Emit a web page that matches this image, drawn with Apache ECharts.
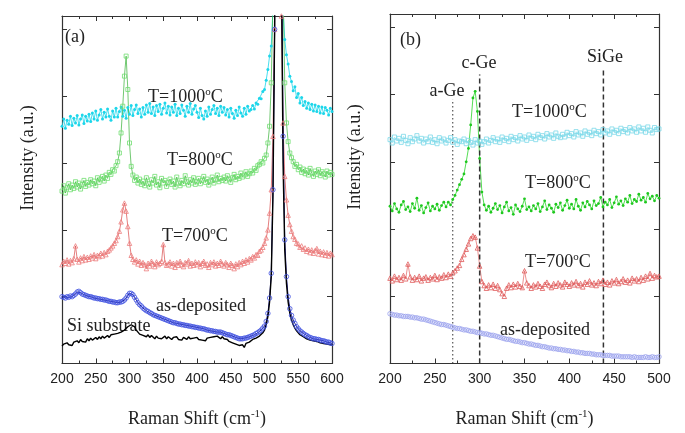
<!DOCTYPE html>
<html><head><meta charset="utf-8">
<script src="https://cdn.jsdelivr.net/npm/echarts@6/dist/echarts.min.js"></script>
<style>html,body{margin:0;padding:0;background:#fff}#c{width:685px;height:433px}</style>
</head><body><div id="c"></div>
<script>
// ---------- Panel (a): Raman shift samples (cm-1) ----------
const xA = [
 200,202.5,205,207.5,210,212.5,215,217.5,220,222.5,225,227.5,230,232.5,235,237.5,
 240,242.5,245,247.5,250,252.5,255,257.5,260,262.5,265,267.5,270,272.5,275,277.5,
 280,282.5,285,287.5,290,292.5,295,297.5,300,302.5,305,307.5,310,312.5,315,317.5,
 320,322.5,325,327.5,330,332.5,335,337.5,340,342.5,345,347.5,350,352.5,355,357.5,
 360,362.5,365,367.5,370,372.5,375,377.5,380,382.5,385,387.5,390,392.5,395,397.5,
 400,402.5,405,407.5,410,412.5,415,417.5,420,422.5,425,427.5,430,432.5,435,437.5,
 440,442.5,445,447.5,450,452.5,455,457.5,460,462.5,465,467.5,470,472.5,475,477.5,
 480,482.5,485,487.5,490,492.5,495,497.5,500,502.5,505,507.5,510,512.5,515,517.5,
 520,522.5,525,527.5,530,532.5,535,537.5,540,542.5,545,547.5,550,552.5,555,557.5,
 560,562.5,565,567.5,570,572.5,575,577.5,580,582.5,585,587.5,590,592.5,595,597.5,
 600];
const t1000A = [
 3.55,3.66,3.52,3.64,3.58,3.70,3.56,3.67,3.60,3.71,3.57,3.66,3.72,3.59,3.70,3.63,
 3.73,3.62,3.75,3.66,3.78,3.64,3.72,3.80,3.66,3.76,3.69,3.81,3.70,3.64,3.78,3.69,
 3.82,3.69,3.77,3.84,3.70,3.79,3.67,3.83,3.73,3.86,3.71,3.80,3.87,3.74,3.81,3.69,
 3.83,3.73,3.87,3.76,3.89,3.74,3.84,3.71,3.86,3.77,3.88,3.73,3.82,3.90,3.75,3.85,
 3.72,3.84,3.76,3.88,3.71,3.82,3.74,3.87,3.79,3.70,3.85,3.76,3.89,3.73,3.81,3.86,
 3.76,3.68,3.82,3.71,3.66,3.78,3.70,3.84,3.73,3.80,3.86,3.74,3.82,3.71,3.85,3.76,
 3.83,3.72,3.80,3.69,3.82,3.74,3.67,3.79,3.71,3.84,3.75,3.70,3.82,3.73,3.85,3.78,
 3.80,3.86,3.81,3.90,3.88,3.97,3.96,4.07,4.10,4.24,4.40,4.60,4.75,5.3,7.0,10,
 14,11,7.5,5.3,4.85,4.62,4.48,4.30,4.22,4.08,4.14,3.98,4.04,3.90,3.98,3.86,
 3.92,3.82,3.90,3.80,3.88,3.78,3.87,3.77,3.85,3.75,3.84,3.74,3.83,3.79,3.72,3.82,
 3.77];
const t800A = [
 2.58,2.66,2.55,2.63,2.69,2.60,2.67,2.62,2.72,2.64,2.70,2.61,2.68,2.74,2.65,2.71,
 2.67,2.75,2.69,2.73,2.66,2.78,2.71,2.76,2.80,2.73,2.82,2.77,2.86,2.83,2.90,2.88,
 2.96,3.02,3.15,3.45,3.85,4.30,4.60,4.10,3.30,2.95,2.82,2.74,2.79,2.70,2.76,2.68,
 2.73,2.66,2.78,2.69,2.64,2.75,2.70,2.80,2.67,2.72,2.63,2.77,2.70,2.74,2.65,2.71,
 2.76,2.68,2.73,2.64,2.79,2.70,2.66,2.74,2.69,2.81,2.72,2.67,2.75,2.70,2.78,2.68,
 2.72,2.77,2.69,2.74,2.80,2.71,2.76,2.67,2.73,2.79,2.70,2.75,2.82,2.72,2.77,2.74,
 2.79,2.73,2.81,2.76,2.71,2.78,2.83,2.75,2.80,2.77,2.85,2.79,2.82,2.87,2.80,2.84,
 2.88,2.85,2.92,2.89,2.96,2.98,3.02,3.00,3.07,3.12,3.30,3.55,4.20,5.4,7.5,11,
 14,11,7.5,5.6,4.20,3.60,3.32,3.15,3.08,3.02,2.95,2.98,2.90,2.94,2.86,2.91,
 2.84,2.89,2.82,2.92,2.85,2.80,2.88,2.83,2.90,2.81,2.87,2.84,2.79,2.88,2.82,2.86,
 2.83];
const t700A = [
 1.48,1.53,1.50,1.55,1.49,1.54,1.51,1.57,1.76,1.56,1.52,1.58,1.54,1.60,1.55,1.59,
 1.56,1.61,1.58,1.63,1.57,1.62,1.60,1.65,1.61,1.66,1.63,1.68,1.70,1.73,1.76,1.80,
 1.84,1.90,1.98,2.12,2.30,2.40,2.28,2.05,1.80,1.62,1.56,1.52,1.55,1.49,1.53,1.47,
 1.51,1.48,1.42,1.50,1.46,1.53,1.49,1.45,1.52,1.48,1.50,1.53,1.78,1.51,1.47,1.49,
 1.52,1.46,1.50,1.44,1.51,1.47,1.53,1.48,1.45,1.51,1.49,1.54,1.46,1.50,1.47,1.52,
 1.48,1.51,1.45,1.50,1.53,1.47,1.49,1.44,1.51,1.48,1.52,1.46,1.50,1.47,1.53,1.49,
 1.46,1.51,1.48,1.44,1.50,1.47,1.42,1.49,1.45,1.51,1.48,1.53,1.50,1.55,1.52,1.57,
 1.55,1.60,1.58,1.63,1.62,1.68,1.70,1.74,1.80,1.88,2.00,2.25,2.60,3.4,5.0,9,
 14,9,5.2,3.6,2.80,2.45,2.22,2.08,1.98,1.90,1.86,1.80,1.79,1.74,1.76,1.71,
 1.73,1.68,1.71,1.66,1.70,1.65,1.69,1.72,1.64,1.68,1.63,1.67,1.62,1.66,1.61,1.65,
 1.63];
const asDepA = [
 1.00,0.99,0.98,1.00,0.99,1.01,1.00,1.02,1.04,1.07,1.08,1.06,1.04,1.03,1.02,1.01,
 1.00,1.00,0.99,0.98,0.98,0.97,0.97,0.96,0.96,0.95,0.95,0.94,0.93,0.93,0.92,0.92,
 0.91,0.91,0.92,0.92,0.93,0.95,0.98,1.02,1.05,1.05,1.03,0.99,0.95,0.91,0.88,0.86,
 0.83,0.81,0.79,0.78,0.76,0.75,0.73,0.72,0.71,0.70,0.69,0.68,0.67,0.66,0.65,0.64,
 0.63,0.62,0.61,0.61,0.60,0.59,0.59,0.58,0.58,0.57,0.57,0.56,0.56,0.55,0.55,0.54,
 0.54,0.53,0.53,0.52,0.52,0.51,0.50,0.50,0.49,0.49,0.48,0.48,0.47,0.47,0.47,0.46,
 0.45,0.44,0.43,0.43,0.42,0.41,0.40,0.39,0.38,0.37,0.37,0.37,0.38,0.38,0.39,0.40,
 0.41,0.42,0.43,0.45,0.46,0.48,0.50,0.53,0.56,0.63,0.75,0.98,1.35,2.6,5.0,10,
 14,12,7,3.4,1.85,1.30,1.00,0.82,0.72,0.65,0.60,0.55,0.52,0.49,0.47,0.45,
 0.43,0.42,0.40,0.39,0.38,0.37,0.37,0.36,0.36,0.35,0.34,0.34,0.33,0.32,0.32,0.31,
 0.30];
const siSubA = [
 0.26,0.29,0.27,0.31,0.28,0.30,0.27,0.32,0.30,0.34,0.31,0.36,0.33,0.35,0.32,0.37,
 0.34,0.38,0.35,0.37,0.39,0.36,0.40,0.37,0.41,0.38,0.40,0.42,0.39,0.43,0.41,0.44,
 0.42,0.45,0.44,0.47,0.46,0.50,0.52,0.55,0.54,0.58,0.60,0.55,0.50,0.47,0.44,0.46,
 0.42,0.44,0.40,0.43,0.39,0.42,0.40,0.37,0.41,0.38,0.40,0.37,0.39,0.41,0.37,0.40,
 0.38,0.36,0.39,0.37,0.40,0.36,0.38,0.35,0.39,0.37,0.36,0.40,0.37,0.35,0.38,0.36,
 0.39,0.36,0.38,0.35,0.37,0.34,0.38,0.36,0.39,0.37,0.40,0.38,0.41,0.39,0.37,0.40,
 0.37,0.35,0.36,0.33,0.34,0.31,0.33,0.29,0.31,0.27,0.25,0.28,0.24,0.30,0.28,0.32,
 0.33,0.36,0.35,0.38,0.37,0.41,0.43,0.46,0.50,0.58,0.70,0.92,1.30,2.5,5.0,10,
 14,11,6,3.0,1.70,1.20,0.92,0.75,0.65,0.58,0.53,0.49,0.46,0.43,0.41,0.40,
 0.38,0.37,0.36,0.35,0.35,0.34,0.33,0.33,0.32,0.31,0.31,0.30,0.30,0.29,0.29,0.28,
 0.28];

// ---------- Panel (b) ----------
const xB = [
 200,202.5,205,207.5,210,212.5,215,217.5,220,222.5,225,227.5,230,232.5,235,237.5,
 240,242.5,245,247.5,250,252.5,255,257.5,260,262.5,265,267.5,270,272.5,275,277.5,
 280,282.5,285,287.5,290,292.5,295,297.5,300,302.5,305,307.5,310,312.5,315,317.5,
 320,322.5,325,327.5,330,332.5,335,337.5,340,342.5,345,347.5,350,352.5,355,357.5,
 360,362.5,365,367.5,370,372.5,375,377.5,380,382.5,385,387.5,390,392.5,395,397.5,
 400,402.5,405,407.5,410,412.5,415,417.5,420,422.5,425,427.5,430,432.5,435,437.5,
 440,442.5,445,447.5,450,452.5,455,457.5,460,462.5,465,467.5,470,472.5,475,477.5,
 480,482.5,485,487.5,490,492.5,495,497.5,
 500];
const t1000B = [
 3.33,3.28,3.37,3.31,3.35,3.29,3.38,3.32,3.27,3.36,3.30,3.34,3.39,3.31,3.35,3.28,
 3.34,3.30,3.37,3.29,3.33,3.27,3.36,3.31,3.34,3.28,3.32,3.36,3.29,3.33,3.26,3.31,
 3.30,3.34,3.27,3.32,3.29,3.25,3.33,3.28,3.31,3.26,3.30,3.34,3.28,3.32,3.36,3.30,
 3.34,3.29,3.37,3.32,3.35,3.30,3.38,3.33,3.36,3.31,3.39,3.34,3.37,3.32,3.40,3.35,
 3.38,3.33,3.41,3.36,3.39,3.34,3.42,3.37,3.40,3.35,3.43,3.38,3.36,3.41,3.37,3.44,
 3.39,3.42,3.37,3.45,3.40,3.43,3.38,3.46,3.41,3.44,3.39,3.47,3.42,3.45,3.40,3.48,
 3.43,3.46,3.41,3.49,3.44,3.47,3.42,3.50,3.45,3.48,3.43,3.51,3.46,3.49,3.44,3.52,
 3.46,3.50,3.44,3.52,3.47,3.43,3.51,3.48,
 3.49];
const t800B = [
 2.34,2.27,2.38,2.30,2.25,2.36,2.41,2.29,2.33,2.26,2.38,2.31,2.46,2.28,2.35,2.24,
 2.32,2.39,2.27,2.34,2.30,2.37,2.28,2.35,2.40,2.33,2.40,2.36,2.44,2.50,2.58,2.66,
 2.74,2.82,3.00,3.20,3.55,3.95,4.05,3.75,3.05,2.55,2.36,2.28,2.34,2.25,2.31,2.38,
 2.29,2.35,2.24,2.33,2.40,2.27,2.32,2.22,2.36,2.30,2.26,2.34,2.45,2.29,2.33,2.27,
 2.35,2.30,2.38,2.26,2.33,2.42,2.29,2.36,2.31,2.25,2.37,2.32,2.39,2.28,2.35,2.43,
 2.31,2.37,2.30,2.44,2.34,2.28,2.39,2.33,2.41,2.36,2.30,2.42,2.35,2.38,2.47,2.33,
 2.40,2.36,2.44,2.32,2.39,2.48,2.37,2.42,2.35,2.45,2.40,2.50,2.38,2.44,2.41,2.52,
 2.43,2.47,2.40,2.53,2.45,2.49,2.42,2.50,
 2.46];
const t700B = [
 1.27,1.23,1.30,1.25,1.28,1.24,1.31,1.26,1.48,1.29,1.24,1.28,1.25,1.30,1.23,1.27,
 1.29,1.24,1.28,1.26,1.31,1.25,1.29,1.27,1.32,1.28,1.33,1.30,1.35,1.38,1.42,1.46,
 1.55,1.62,1.70,1.78,1.86,1.90,1.88,1.72,1.45,1.22,1.16,1.12,1.17,1.13,1.18,1.12,
 1.16,1.10,1.04,1.00,1.12,1.17,1.13,1.18,1.14,1.19,1.15,1.13,1.38,1.20,1.16,1.12,
 1.17,1.14,1.19,1.15,1.12,1.18,1.21,1.16,1.13,1.19,1.15,1.20,1.17,1.14,1.21,1.18,
 1.15,1.20,1.17,1.22,1.16,1.19,1.14,1.21,1.18,1.23,1.17,1.20,1.16,1.22,1.19,1.24,
 1.18,1.21,1.17,1.23,1.20,1.25,1.19,1.22,1.26,1.21,1.24,1.20,1.27,1.23,1.26,1.22,
 1.28,1.24,1.30,1.26,1.34,1.27,1.31,1.29,
 1.30];
const asDepB = [
 0.74,0.73,0.72,0.72,0.71,0.71,0.70,0.70,0.70,0.69,0.69,0.68,0.68,0.67,0.66,0.66,
 0.65,0.64,0.63,0.62,0.61,0.60,0.59,0.58,0.58,0.57,0.56,0.55,0.54,0.53,0.52,0.52,
 0.51,0.50,0.50,0.49,0.48,0.48,0.47,0.46,0.46,0.45,0.44,0.44,0.43,0.42,0.42,0.41,
 0.40,0.39,0.38,0.37,0.36,0.36,0.35,0.34,0.33,0.33,0.32,0.31,0.31,0.30,0.29,0.29,
 0.28,0.27,0.27,0.26,0.25,0.25,0.24,0.23,0.23,0.22,0.22,0.21,0.21,0.20,0.20,0.19,
 0.19,0.18,0.18,0.17,0.17,0.16,0.16,0.15,0.15,0.15,0.14,0.14,0.13,0.13,0.13,0.12,
 0.12,0.12,0.12,0.11,0.11,0.11,0.11,0.10,0.10,0.10,0.10,0.10,0.09,0.10,0.09,0.09,
 0.09,0.09,0.10,0.09,0.09,0.10,0.09,0.09,
 0.10];
// reference lines: a-Ge, c-Ge, SiGe
const refX = [270, 300, 438];
const refTop = [3.93, 4.3, 4.4];
const rangeA = [200, 600];
const rangeB = [200, 500];

// ---------- build ----------
const pair = (xs, ys) => xs.map((x, i) => [x, ys[i]]);
const axisCol = '#333';
const serif = 'Liberation Serif';
function xAx(g, pos, range, main) {
  return {type:'value', gridIndex:g, position:pos, min:range[0], max:range[1], interval:50,
    axisLine:{show:true, onZero:false, lineStyle:{color:axisCol, width:1.2}},
    axisTick:{show:true, inside:true, length:5, lineStyle:{color:axisCol}},
    minorTick:{show:true, splitNumber:2, length:3, lineStyle:{color:axisCol}},
    splitLine:{show:false}, minorSplitLine:{show:false},
    axisLabel:{show:main, color:'#222', fontFamily:'Liberation Sans', fontSize:14, margin:9},
    name: main ? '{n|Raman Shift (cm}{s|-1}{n|)}' : '', nameLocation:'middle', nameGap:45,
    nameTextStyle:{rich:{n:{fontFamily:serif, fontSize:18, color:'#222', lineHeight:21},
      s:{fontFamily:serif, fontSize:11, color:'#222', lineHeight:9, verticalAlign:'top'}}}};
}
function yAx(g, pos) {
  return {type:'value', gridIndex:g, position:pos, min:0, max:5.2, interval:1,
    axisLine:{show:true, onZero:false, lineStyle:{color:axisCol, width:1.2}},
    axisTick:{show:true, inside:true, length:5, lineStyle:{color:axisCol}},
    axisLabel:{show:false}, splitLine:{show:false}};
}
function ser(xi, yi, data, sym, size, col, lineCol, filled, lw) {
  return {type:'line', xAxisIndex:xi, yAxisIndex:yi, data, symbol:sym, symbolSize:size,
    showSymbol: sym !== 'none', silent:true, animation:false, clip:true,
    lineStyle:{color:lineCol, width:lw || 0.8},
    itemStyle: filled ? {color:col} : {color:'transparent', borderColor:col, borderWidth:0.8}};
}
const series = [
  ser(0,0,pair(xA,t1000A),'circle',3,'#1cd6ea','#1cd6ea',true,0.8),
  ser(0,0,pair(xA,t800A),'rect',4,'#70de70','#35b035',false,0.7),
  ser(0,0,pair(xA,t700A),'triangle',4.5,'#ec7c7c','#d84848',false,0.7),
  ser(0,0,pair(xA,asDepA),'circle',4.5,'#3f50e0','#16168a',false,1),
  ser(0,0,pair(xA,siSubA),'none',0,'#000','#000',true,1.4),
  ser(2,2,pair(xB,t1000B),'rect',4,'#7ad8e8','#92e2ee',false,0.6),
  ser(2,2,pair(xB,t800B),'circle',2.8,'#1fc81f','#2ad42a',true,0.8),
  ser(2,2,pair(xB,t700B),'triangle',4.5,'#e05a5a','#e26060',false,0.7),
  ser(2,2,pair(xB,asDepB),'circle',4.5,'#9aa2ee','#aab0f0',false,0.6)
];
const refStyles = [{type:[1.5,2.5], width:1}, {type:[5,3], width:1.5}, {type:[5,3], width:1.5}];
refX.forEach((x, i) => {
  series.push({type:'line', xAxisIndex:2, yAxisIndex:2, data:[[x,0],[x,refTop[i]]], symbol:'none',
    silent:true, animation:false, lineStyle:Object.assign({color:'#333'}, refStyles[i])});
});

const rich = {n:{fontSize:18, fontFamily:serif, fill:'#222', lineHeight:21},
              s:{fontSize:11, fontFamily:serif, fill:'#222', lineHeight:9, verticalAlign:'top'}};
function T(x, y, text, align, rot) {
  return {type:'text', x, y, rotation:rot || 0, silent:true,
    style:{text, align:align || 'left', verticalAlign:'middle', fill:'#222', fontFamily:serif, fontSize:18, rich}};
}
const graphic = [
  T(65,37,'(a)'), T(148,97,'{n|T=1000}{s|o}{n|C}'), T(167,160,'{n|T=800}{s|o}{n|C}'),
  T(162,236,'{n|T=700}{s|o}{n|C}'), T(156,306,'as-deposited'), T(67,326,'Si substrate'),
  T(28,158,'Intensity (a.u.)','center',Math.PI/2),
  T(400,40,'(b)'), T(447,91,'a-Ge','center'), T(479,63,'c-Ge','center'), T(605,57,'SiGe','center'),
  T(512,112,'{n|T=1000}{s|o}{n|C}'), T(525,183,'{n|T=800}{s|o}{n|C}'), T(525,262,'{n|T=700}{s|o}{n|C}'),
  T(500,330,'as-deposited'),
  T(355,157,'Intensity (a.u.)','center',Math.PI/2)
];

const chart = echarts.init(document.getElementById('c'), null, {renderer:'canvas'});
chart.setOption({
  animation:false, backgroundColor:'#fff',
  grid:[{left:62, top:16, width:270, height:351}, {left:390, top:14, width:269, height:351}],
  xAxis:[xAx(0,'bottom',rangeA,true), xAx(0,'top',rangeA,false), xAx(1,'bottom',rangeB,true), xAx(1,'top',rangeB,false)],
  yAxis:[yAx(0,'left'), yAx(0,'right'), yAx(1,'left'), yAx(1,'right')],
  series, graphic
});
</script></body></html>
